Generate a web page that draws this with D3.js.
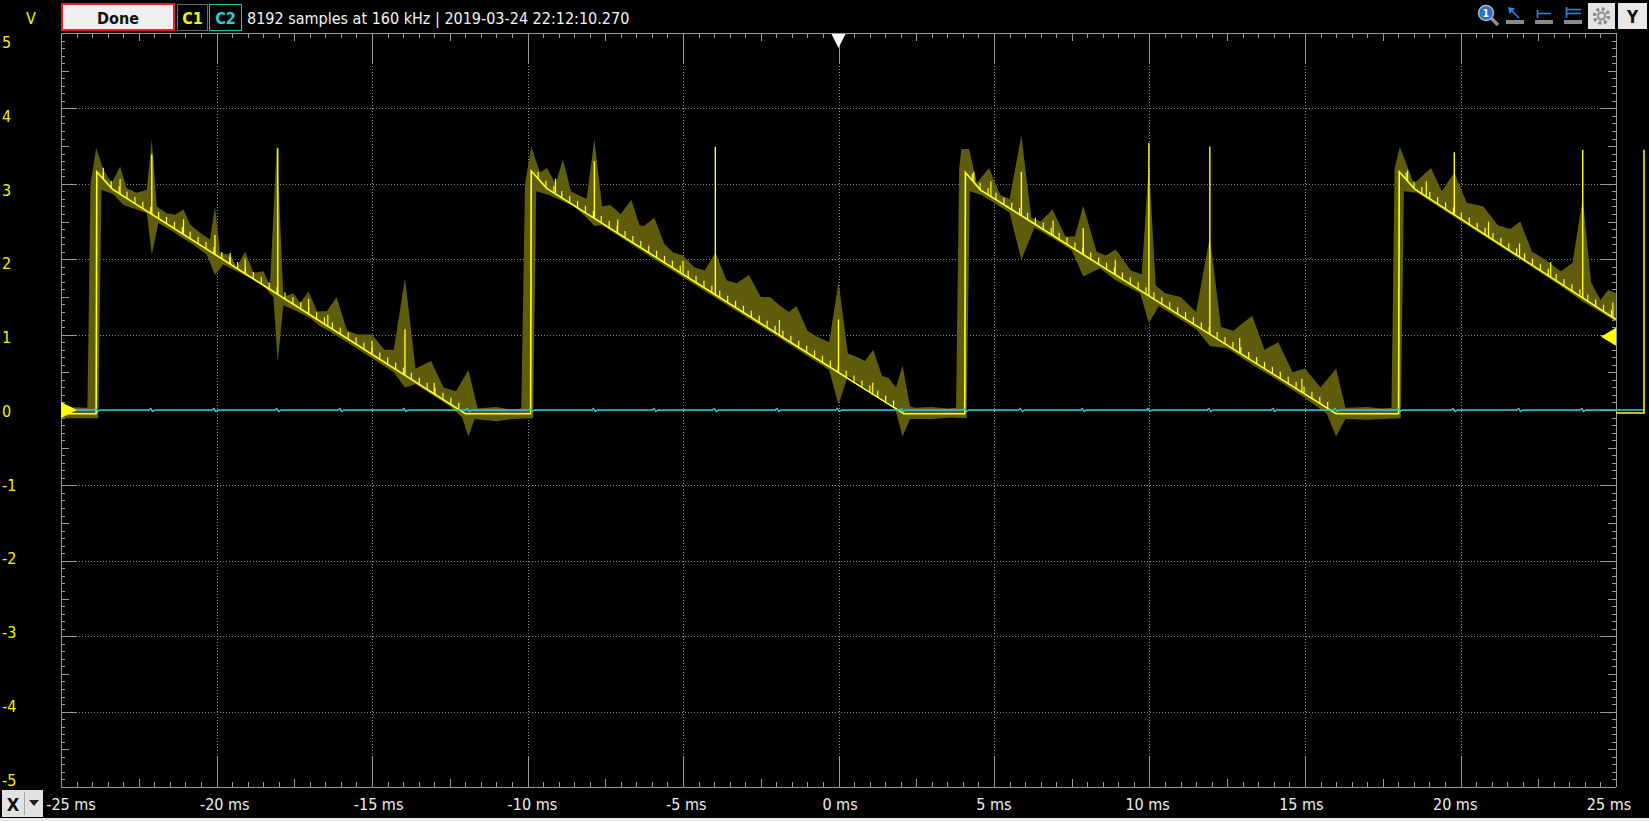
<!DOCTYPE html>
<html>
<head>
<meta charset="utf-8">
<script src="https://cdn.jsdelivr.net/npm/d3@7"></script>
<style>
  body { margin: 0; background: #000; overflow: hidden; }
  svg { display: block; font-family: "DejaVu Sans Condensed", "DejaVu Sans", sans-serif; font-stretch: condensed; }
</style>
</head>
<body>
<svg id="scope" width="1649" height="821"></svg>
<script>
// ---- values (time in ms, level in V) ----
var xTickValues = [-25, -20, -15, -10, -5, 0, 5, 10, 15, 20, 25];
var xTickLabels = ["-25 ms", "-20 ms", "-15 ms", "-10 ms", "-5 ms", "0 ms", "5 ms", "10 ms", "15 ms", "20 ms", "25 ms"];
var yTickValues = [5, 4, 3, 2, 1, 0, -1, -2, -3, -4, -5];
var yTickLabels = ["5", "4", "3", "2", "1", "0", "-1", "-2", "-3", "-4", "-5"];

// C1 main trace, breakpoints of the sawtooth
var c1Line = [
  [-25.0, -0.05], [-23.87, -0.05], [-23.85, 3.16], [-23.35, 2.93], [-12.0, -0.05],
  [-9.90, -0.05], [-9.88, 3.17], [-9.38, 2.94], [2.1, -0.05],
  [4.06, -0.05], [4.08, 3.15], [4.56, 2.92], [16.0, -0.05],
  [18.01, -0.05], [18.03, 3.16], [18.53, 2.93], [25.0, 1.20]
];
// stretches of the ramps carrying the small DAC step glitches
var c1Ramps = [[-23.64, -12.1], [-9.66, 2.0], [4.30, 15.9], [18.25, 25.0]];
var c1StepMs = 0.254;
var c1StepV = 0.09;
// taller glitches [t, height above the trace]
var c1TallSteps = [
  [-23.64, 0.15], [-23.10, 0.2], [-21.06, 0.2], [-19.56, 0.15], [-19.08, 0.2], [-17.04, 0.2], [-16.42, 0.15],
  [-15.0, 0.18], [-13.0, 0.15], [-9.1, 0.2], [-7.1, 0.18], [-5.0, 0.18], [-1.9, 0.2], [1.1, 0.15],
  [4.35, 0.14], [4.9, 0.2], [6.9, 0.2], [8.9, 0.2], [12.9, 0.2], [14.9, 0.18],
  [18.3, 0.14], [18.9, 0.2], [20.9, 0.2], [21.9, 0.18], [22.9, 0.2], [24.9, 0.2]
];
// tall spikes of the trace [t, peak V]
var c1Spikes = [
  [-22.08, 3.39], [-20.05, 2.32], [-18.03, 3.47], [-13.94, 1.07],
  [-7.85, 3.30], [-3.96, 3.49], [0.0, 1.20],
  [5.88, 3.16], [7.87, 2.41], [9.98, 3.54], [11.94, 3.49],
  [19.80, 3.42], [23.93, 3.45]
];
// min/max envelope of C1
var c1EnvTop = [
  [-25, 0.04], [-24.15, 0.03],
  [-24.05, 3.0], [-23.87, 3.475], [-23.64, 3.19], [-23.37, 3.01], [-23.10, 3.23], [-22.89, 2.94], [-22.56, 2.88],
  [-22.24, 2.92], [-22.08, 3.59], [-21.92, 2.70], [-21.60, 2.61], [-21.33, 2.59], [-21.06, 2.66], [-20.85, 2.46],
  [-20.53, 2.35], [-20.21, 2.26], [-20.05, 2.70], [-19.88, 2.08], [-19.56, 2.06], [-19.35, 1.90], [-19.08, 2.10],
  [-18.81, 1.82], [-18.49, 1.84], [-18.28, 1.64], [-18.06, 3.56], [-17.85, 1.50], [-17.53, 1.55], [-17.31, 1.42],
  [-17.04, 1.57], [-16.77, 1.31], [-16.45, 1.31], [-16.14, 1.50], [-15.8, 1.05], [-15.46, 1.0], [-15.0, 1.0],
  [-14.6, 0.8], [-14.3, 0.8], [-13.94, 1.75], [-13.6, 0.55], [-13.1, 0.65], [-12.7, 0.3], [-12.3, 0.25],
  [-11.9, 0.53], [-11.6, 0.02], [-11.0, 0.04], [-10.5, 0.0], [-10.2, 0.02],
  [-10.08, 3.0], [-9.88, 3.49], [-9.6, 3.15], [-9.37, 3.21], [-9.1, 3.0], [-8.86, 3.32], [-8.6, 2.9], [-8.42, 2.86],
  [-8.1, 2.8], [-7.85, 3.59], [-7.6, 2.7], [-7.34, 2.72], [-7.0, 2.6], [-6.66, 2.79], [-6.4, 2.45], [-6.26, 2.44],
  [-5.92, 2.55], [-5.6, 2.2], [-5.31, 2.09], [-5.0, 2.05], [-4.63, 1.89], [-4.3, 1.85], [-3.96, 2.09], [-3.6, 1.72],
  [-3.28, 1.68], [-2.88, 1.79], [-2.5, 1.5], [-2.2, 1.5], [-1.93, 1.40], [-1.6, 1.3], [-1.35, 1.38], [-1.0, 1.05],
  [-0.74, 0.98], [-0.3, 0.9], [0.0, 1.70], [0.3, 0.75], [0.61, 0.70], [0.85, 0.65], [1.12, 0.80], [1.4, 0.45],
  [1.62, 0.42], [1.85, 0.3], [2.06, 0.59], [2.3, 0.05], [2.47, 0.03], [3.0, 0.04], [3.5, 0.02], [3.78, 0.03],
  [3.88, 3.2], [3.95, 3.46], [4.2, 3.46], [4.45, 3.01], [4.84, 3.21], [5.2, 2.85], [5.5, 2.8], [5.88, 3.64], [6.2, 2.55],
  [6.5, 2.5], [6.88, 2.66], [7.3, 2.3], [7.6, 2.3], [7.87, 2.71], [8.3, 2.1], [8.6, 2.05], [8.91, 2.13],
  [9.4, 1.85], [9.75, 1.8], [9.98, 3.28], [10.2, 1.65], [10.5, 1.55], [11.0, 1.5], [11.5, 1.3], [11.94, 2.3],
  [12.3, 1.1], [12.7, 1.05], [13.3, 1.25], [13.7, 0.8], [14.14, 0.9], [14.6, 0.5], [15.0, 0.55], [15.5, 0.3],
  [16.0, 0.55], [16.3, 0.03], [17.0, 0.04], [17.5, 0.02], [17.78, 0.03],
  [17.88, 3.2], [18.05, 3.49], [18.5, 3.0], [19.05, 3.21], [19.4, 2.9], [19.8, 3.15], [20.2, 2.75], [20.74, 2.7],
  [21.2, 2.45], [21.6, 2.4], [21.92, 2.5], [22.3, 2.1], [22.7, 2.0], [23.23, 1.84], [23.6, 1.95], [23.93, 2.81],
  [24.2, 1.69], [24.5, 1.46], [24.75, 1.59], [25.0, 1.55]
];
var c1EnvBot = [
  [-25, -0.11], [-23.80, -0.11], [-23.70, 2.92], [-23.32, 2.86], [-22.99, 2.72], [-22.56, 2.66], [-22.24, 2.61],
  [-22.08, 2.06], [-21.87, 2.48], [-21.49, 2.39], [-21.17, 2.30], [-20.74, 2.19], [-20.31, 2.06], [-20.05, 1.79],
  [-19.78, 1.93], [-19.35, 1.84], [-18.92, 1.75], [-18.49, 1.64], [-18.17, 1.50], [-18.03, 0.64], [-17.85, 1.39],
  [-17.42, 1.31], [-16.99, 1.22], [-16.67, 1.11], [-16.35, 1.04], [-15.5, 0.82], [-14.3, 0.5], [-13.94, 0.3],
  [-13.6, 0.34], [-12.5, 0.05], [-12.1, -0.1], [-11.9, -0.35], [-11.7, -0.12], [-11.0, -0.15], [-10.5, -0.12],
  [-9.82, -0.11],
  [-9.72, 2.9], [-9.3, 2.85], [-8.5, 2.7], [-8.1, 2.55], [-7.85, 2.44], [-7.6, 2.45], [-6.0, 2.02], [-4.0, 1.5],
  [-2.0, 0.98], [-0.3, 0.53], [0.0, 0.07], [0.3, 0.45], [1.2, 0.2], [1.8, 0.05], [2.06, -0.35], [2.3, -0.12],
  [3.0, -0.12], [3.6, -0.1], [4.12, -0.11],
  [4.22, 2.9], [4.6, 2.85], [5.5, 2.62], [5.88, 1.99], [6.3, 2.42], [6.88, 2.28], [7.5, 2.12], [7.87, 1.77],
  [8.4, 1.88], [8.91, 1.72], [9.7, 1.55], [9.98, 1.15], [10.3, 1.38], [11.5, 1.07], [11.94, 0.85], [12.5, 0.82],
  [13.3, 0.6], [14.14, 0.39], [15.0, 0.16], [15.7, -0.05], [16.0, -0.35], [16.3, -0.12], [17.0, -0.13], [18.08, -0.11],
  [18.18, 2.9], [18.6, 2.88], [19.8, 2.56], [21.0, 2.24], [22.5, 1.84], [23.23, 1.64], [23.93, 1.44], [24.5, 1.30],
  [25.0, 1.17]
];
// C1 drawn past the right edge of the grid
var c1Overflow = [[25.0, -0.04], [25.9, -0.04], [25.9, 3.45]];

// C2 flat at 0 V with small crosstalk blips
var c2Span = [-25.0, 25.9];
var c2Blips = [-23.85, -22.08, -20.05, -18.03, -16.0, -13.94, -11.9, -9.88, -7.85, -5.9, -3.96, -1.95, 0.0,
  2.06, 4.08, 5.88, 7.87, 9.98, 11.94, 14.0, 16.0, 18.03, 19.8, 21.9, 23.93];

var trigTime = 0;
var trigLevel = 0.97;
var c1Offset = 0;

// ---- scales ----
var svg = d3.select("#scope");
var W = 1649, H = 821;
var x = d3.scaleLinear().domain([-25, 25]).range([61, 1616]);
var y = d3.scaleLinear().domain([-5, 5]).range([787, 33]);
var xLab = d3.scaleLinear().domain([-25, 25]).range([71, 1609]);
var yLab = d3.scaleLinear().domain([5, -5]).range([42.5, 780]);
var c1At = d3.scaleLinear().domain(c1Line.map(function(d) { return d[0]; })).range(c1Line.map(function(d) { return d[1]; }));
var px = function(v) { return Math.round(v) + 0.5; };

svg.append("rect").attr("width", W).attr("height", H).attr("fill", "#000");

// ---- grid ----
var grid = svg.append("g").attr("stroke", "#8a8a8a").attr("stroke-dasharray", "1,2");
grid.selectAll("line.gx").data(xTickValues.filter(function(d) { return d > -25 && d < 25; }))
  .enter().append("line").attr("class", "gx")
  .attr("x1", function(d) { return px(x(d)); }).attr("x2", function(d) { return px(x(d)); })
  .attr("y1", y(5)).attr("y2", y(-5));
grid.selectAll("line.gy").data(yTickValues.filter(function(d) { return d > -5 && d < 5; }))
  .enter().append("line").attr("class", "gy")
  .attr("y1", function(d) { return px(y(d)); }).attr("y2", function(d) { return px(y(d)); })
  .attr("x1", x(-25)).attr("x2", x(25));

// ---- frame and ticks ----
var frame = svg.append("g").attr("stroke", "#9a9a9a").attr("stroke-width", 1);
frame.append("line").attr("x1", px(x(-25))).attr("x2", px(x(-25))).attr("y1", y(5)).attr("y2", y(-5));
frame.append("line").attr("x1", px(x(25))).attr("x2", px(x(25))).attr("y1", y(5)).attr("y2", y(-5));
frame.append("line").attr("y1", px(y(5))).attr("y2", px(y(5))).attr("x1", x(-25)).attr("x2", x(25));
frame.append("line").attr("y1", px(y(-5))).attr("y2", px(y(-5))).attr("x1", x(-25)).attr("x2", x(25));

function xTickLen(t) {
  var k = Math.abs(Math.round(t * 2));
  return k % 10 === 0 ? 30 : (k % 5 === 0 ? 8 : 5);
}
function yTickLen(v) {
  var k = Math.abs(Math.round(v * 10));
  return k % 10 === 0 ? 15 : (k % 5 === 0 ? 8 : 4);
}
var xt = x.ticks(100), yt = y.ticks(100);
frame.selectAll("line.tb").data(xt).enter().append("line").attr("class", "tb")
  .attr("x1", function(d) { return px(x(d)); }).attr("x2", function(d) { return px(x(d)); })
  .attr("y1", y(-5)).attr("y2", function(d) { return y(-5) - xTickLen(d); });
frame.selectAll("line.tt").data(xt).enter().append("line").attr("class", "tt")
  .attr("x1", function(d) { return px(x(d)); }).attr("x2", function(d) { return px(x(d)); })
  .attr("y1", y(5)).attr("y2", function(d) { return y(5) + xTickLen(d); });
frame.selectAll("line.tl").data(yt).enter().append("line").attr("class", "tl")
  .attr("y1", function(d) { return px(y(d)); }).attr("y2", function(d) { return px(y(d)); })
  .attr("x1", x(-25)).attr("x2", function(d) { return x(-25) + yTickLen(d); });
frame.selectAll("line.tr").data(yt).enter().append("line").attr("class", "tr")
  .attr("y1", function(d) { return px(y(d)); }).attr("y2", function(d) { return px(y(d)); })
  .attr("x1", x(25)).attr("x2", function(d) { return x(25) - yTickLen(d); });

// ---- tick labels ----
svg.append("g").selectAll("text").data(yTickValues).enter().append("text")
  .attr("x", 2).attr("y", function(d) { return yLab(d); })
  .attr("dominant-baseline", "central").attr("font-size", 16).attr("fill", "#f2f200")
  .text(function(d, i) { return yTickLabels[i]; });
svg.append("g").selectAll("text").data(xTickValues).enter().append("text")
  .attr("x", function(d) { return xLab(d); }).attr("y", 804)
  .attr("text-anchor", "middle").attr("dominant-baseline", "central").attr("font-size", 16).attr("fill", "#f0f0f0")
  .text(function(d, i) { return xTickLabels[i]; });

// ---- traces ----
svg.append("clipPath").attr("id", "plotClip").append("rect")
  .attr("x", x(-25)).attr("y", y(5)).attr("width", x(25) - x(-25)).attr("height", y(-5) - y(5));
var plot = svg.append("g").attr("clip-path", "url(#plotClip)");
var line = d3.line().x(function(d) { return x(d[0]); }).y(function(d) { return y(d[1]); });

plot.append("path")
  .attr("d", line(c1EnvTop.concat(c1EnvBot.slice().reverse())) + "Z")
  .attr("fill", "#5f5d0c");

// C2
var c2Pts = [[c2Span[0], 0]];
c2Blips.forEach(function(t) {
  c2Pts.push([t - 0.1, 0], [t - 0.03, 0.02], [t + 0.03, -0.02], [t + 0.1, 0]);
});
c2Pts.push([c2Span[1], 0]);
svg.append("path").attr("d", line(c2Pts)).attr("fill", "none")
  .attr("stroke", "#2ad0d4").attr("stroke-width", 1.4);

// C1 glitches
var steps = [];
c1Ramps.forEach(function(r) {
  d3.range(r[0], r[1], c1StepMs).forEach(function(t) { steps.push([t, c1StepV]); });
});
var c1col = "#ffff22";
plot.append("g").attr("stroke", c1col).attr("stroke-width", 1.2)
  .selectAll("line").data(steps.concat(c1TallSteps)).enter().append("line")
  .attr("x1", function(d) { return x(d[0]); }).attr("x2", function(d) { return x(d[0]); })
  .attr("y1", function(d) { return y(c1At(d[0])); }).attr("y2", function(d) { return y(c1At(d[0]) + d[1]); });
plot.append("g").attr("stroke", c1col).attr("stroke-width", 1.4)
  .selectAll("line").data(c1Spikes).enter().append("line")
  .attr("x1", function(d) { return x(d[0]); }).attr("x2", function(d) { return x(d[0]); })
  .attr("y1", function(d) { return y(c1At(d[0])); }).attr("y2", function(d) { return y(d[1]); });
plot.append("path").attr("d", line(c1Line)).attr("fill", "none")
  .attr("stroke", c1col).attr("stroke-width", 1.6);
svg.append("path").attr("d", line(c1Overflow)).attr("fill", "none")
  .attr("stroke", c1col).attr("stroke-width", 1.5);

// ---- markers ----
var my = y(c1Offset);
svg.append("path").attr("fill", "#ffff00")
  .attr("d", "M" + x(-25) + "," + (my - 8) + "L" + (x(-25) + 16) + "," + my + "L" + x(-25) + "," + (my + 8) + "Z");
var ty = y(trigLevel);
svg.append("path").attr("fill", "#ffff00")
  .attr("d", "M" + x(25) + "," + (ty - 9) + "L" + (x(25) - 15) + "," + ty + "L" + x(25) + "," + (ty + 9) + "Z");
var tx = x(trigTime);
svg.append("path").attr("fill", "#ffffff")
  .attr("d", "M" + (tx - 7) + "," + (y(5) + 1) + "L" + (tx + 7) + "," + (y(5) + 1) + "L" + tx + "," + (y(5) + 15) + "Z");

// ---- top bar ----
var topBar = svg.append("g");
topBar.append("text").attr("x", 31).attr("y", 18).attr("text-anchor", "middle").attr("dominant-baseline", "central")
  .attr("font-size", 16).attr("fill", "#f2f200").text("V");
topBar.append("rect").attr("x", 62).attr("y", 4).attr("width", 112).attr("height", 26)
  .attr("fill", "#efefef").attr("stroke", "#e0232a").attr("stroke-width", 2);
topBar.append("text").attr("x", 118).attr("y", 18).attr("text-anchor", "middle").attr("dominant-baseline", "central")
  .attr("font-size", 16).attr("font-weight", "bold").attr("fill", "#111").text("Done");
topBar.append("rect").attr("x", 177.5).attr("y", 4.5).attr("width", 30).attr("height", 26)
  .attr("fill", "#000").attr("stroke", "#6a6a6a");
topBar.append("text").attr("x", 192.5).attr("y", 18).attr("text-anchor", "middle").attr("dominant-baseline", "central")
  .attr("font-size", 16).attr("font-weight", "bold").attr("fill", "#f2f200").text("C1");
topBar.append("rect").attr("x", 209.5).attr("y", 4.5).attr("width", 32).attr("height", 26)
  .attr("fill", "#000").attr("stroke", "#2ac4c8");
topBar.append("text").attr("x", 225.5).attr("y", 18).attr("text-anchor", "middle").attr("dominant-baseline", "central")
  .attr("font-size", 16).attr("font-weight", "bold").attr("fill", "#2ad0d4").text("C2");
topBar.append("text").attr("x", 247).attr("y", 18).attr("dominant-baseline", "central")
  .attr("font-size", 16).attr("fill", "#f4f4f4").text("8192 samples at 160 kHz | 2019-03-24 22:12:10.270");

// toolbar icons
var ic = svg.append("g");
ic.append("line").attr("x1", 1491).attr("y1", 18).attr("x2", 1498).attr("y2", 25)
  .attr("stroke", "#8c8c8c").attr("stroke-width", 3.5);
ic.append("circle").attr("cx", 1486).attr("cy", 13).attr("r", 7.5).attr("fill", "#2d6fbf").attr("stroke", "#a9b8c8").attr("stroke-width", 1.5);
ic.append("text").attr("x", 1486).attr("y", 13.5).attr("text-anchor", "middle").attr("dominant-baseline", "central")
  .attr("font-size", 10).attr("font-weight", "bold").attr("fill", "#fff").text("1");
[1506, 1535, 1564].forEach(function(bx) {
  ic.append("rect").attr("x", bx).attr("y", 20).attr("width", 18).attr("height", 4).attr("fill", "#8a8a8a");
});
ic.append("line").attr("x1", 1519).attr("y1", 18).attr("x2", 1510).attr("y2", 9).attr("stroke", "#2f86e0").attr("stroke-width", 1.6);
ic.append("path").attr("d", "M1508,7L1515,8.5L1509.5,14Z").attr("fill", "#2f86e0");
ic.append("path").attr("d", "M1537.5,10V18M1537.5,13.5H1551").attr("stroke", "#2f86e0").attr("stroke-width", 1.6).attr("fill", "none");
ic.append("path").attr("d", "M1566.5,7V18M1566.5,9.5H1581M1566.5,13.5H1581").attr("stroke", "#2f86e0").attr("stroke-width", 1.6).attr("fill", "none");
ic.append("rect").attr("x", 1588).attr("y", 3).attr("width", 27).attr("height", 26).attr("fill", "#e4e4e4");
ic.append("circle").attr("cx", 1601.5).attr("cy", 16).attr("r", 7).attr("fill", "none")
  .attr("stroke", "#8d8d8d").attr("stroke-width", 3.5).attr("stroke-dasharray", "3,2.5");
ic.append("circle").attr("cx", 1601.5).attr("cy", 16).attr("r", 3.5).attr("fill", "none")
  .attr("stroke", "#8d8d8d").attr("stroke-width", 2);
ic.append("rect").attr("x", 1618).attr("y", 3).attr("width", 29).attr("height", 26).attr("fill", "#e8e8e8");
ic.append("text").attr("x", 1632.5).attr("y", 17).attr("text-anchor", "middle").attr("dominant-baseline", "central")
  .attr("font-size", 17).attr("font-weight", "bold").attr("fill", "#111").text("Y");

// ---- bottom bar ----
var botBar = svg.append("g");
botBar.append("rect").attr("x", 2).attr("y", 790).attr("width", 41).attr("height", 27).attr("fill", "#e2e2e2");
botBar.append("text").attr("x", 13).attr("y", 804).attr("text-anchor", "middle").attr("dominant-baseline", "central")
  .attr("font-size", 18).attr("font-weight", "bold").attr("fill", "#111").text("X");
botBar.append("line").attr("x1", 24.5).attr("x2", 24.5).attr("y1", 792).attr("y2", 815).attr("stroke", "#a8a8a8");
botBar.append("path").attr("d", "M29,800H39L34,806Z").attr("fill", "#222");
botBar.append("rect").attr("x", 0).attr("y", 818).attr("width", W).attr("height", 3).attr("fill", "#ececec");
</script>
</body>
</html>
